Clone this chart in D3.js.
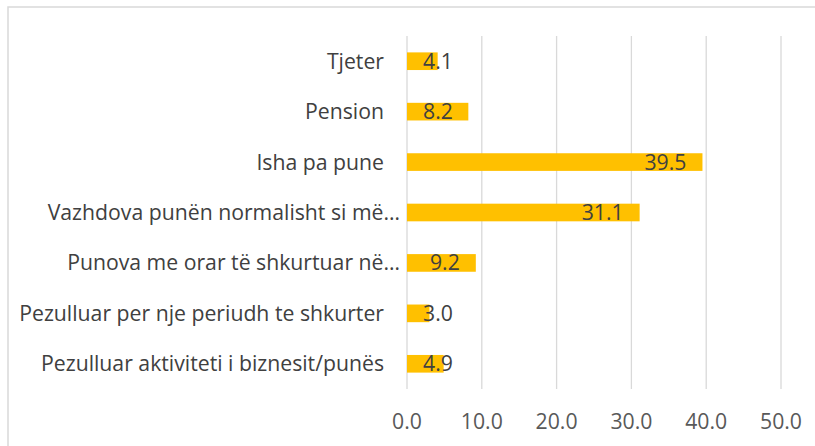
<!DOCTYPE html>
<html><head><meta charset="utf-8">
<script src="https://cdn.jsdelivr.net/npm/d3@7"></script>
<style>html,body{margin:0;padding:0;background:#fff;}svg{display:block;}</style>
</head><body>
<script>
const categories = ["Tjeter","Pension","Isha pa pune","Vazhdova punën normalisht si më…","Punova me orar të shkurtuar në…","Pezulluar per nje periudh te shkurter","Pezulluar aktiviteti i biznesit/punës"];
const values = [4.1, 8.2, 39.5, 31.1, 9.2, 3.0, 4.9];
const ticks = [0, 10, 20, 30, 40, 50];

const W = 815, H = 446;
const FONT = "'Open Sans', Lato, sans-serif";
const svg = d3.select("body").append("svg").attr("width", W).attr("height", H);

svg.append("rect").attr("x", 8).attr("y", 7).attr("width", W + 10).attr("height", H + 10)
  .attr("fill", "none").attr("stroke", "#d9d9d9").attr("stroke-width", 1.5);

const x = d3.scaleLinear().domain([0, 50]).range([407, 781]);
const y = d3.scaleBand().domain(categories).range([36, 389]).paddingInner(0.65).paddingOuter(0.325);

// font size calibration: longest label ~365px wide
const probe = svg.append("text").style("font-family", FONT).style("font-size", "18px")
  .text("Pezulluar per nje periudh te shkurter");
const pw = probe.node().getComputedTextLength();
probe.remove();
const fs = 18 * 365 / pw;

svg.append("g").selectAll("line").data(ticks).join("line")
  .attr("x1", d => x(d)).attr("x2", d => x(d)).attr("y1", 36).attr("y2", 389)
  .attr("stroke", "#d9d9d9").attr("stroke-width", 1.3);

svg.append("g").selectAll("rect").data(values).join("rect")
  .attr("x", x(0)).attr("y", (d, i) => y(categories[i]))
  .attr("width", d => x(d) - x(0)).attr("height", y.bandwidth())
  .attr("fill", "#FFC000");

svg.append("g").selectAll("text").data(categories).join("text")
  .attr("x", d => d.endsWith("…") ? 400 : 384).attr("y", d => y(d) + y.bandwidth() / 2)
  .attr("dy", "0.35em").attr("text-anchor", "end")
  .style("font-family", FONT).style("font-size", fs + "px").attr("fill", "#404040")
  .text(d => d);

const vl = svg.append("g").selectAll("text").data(values).join("text")
  .attr("y", (d, i) => y(categories[i]) + y.bandwidth() / 2)
  .attr("dy", "0.35em").attr("text-anchor", "end")
  .style("font-family", FONT).style("font-size", fs + "px").attr("fill", "#404040")
  .text(d => d.toFixed(1));
vl.each(function(d) {
  const w = this.getComputedTextLength();
  const right = Math.max(x(d) - 16, x(0) + 16 + w);
  d3.select(this).attr("x", right);
});

svg.append("g").selectAll("text").data(ticks).join("text")
  .attr("x", d => x(d)).attr("y", 422).attr("dy", "0.35em").attr("text-anchor", "middle")
  .style("font-family", FONT).style("font-size", fs + "px").attr("fill", "#595959")
  .text(d => d.toFixed(1));
</script>
</body></html>
